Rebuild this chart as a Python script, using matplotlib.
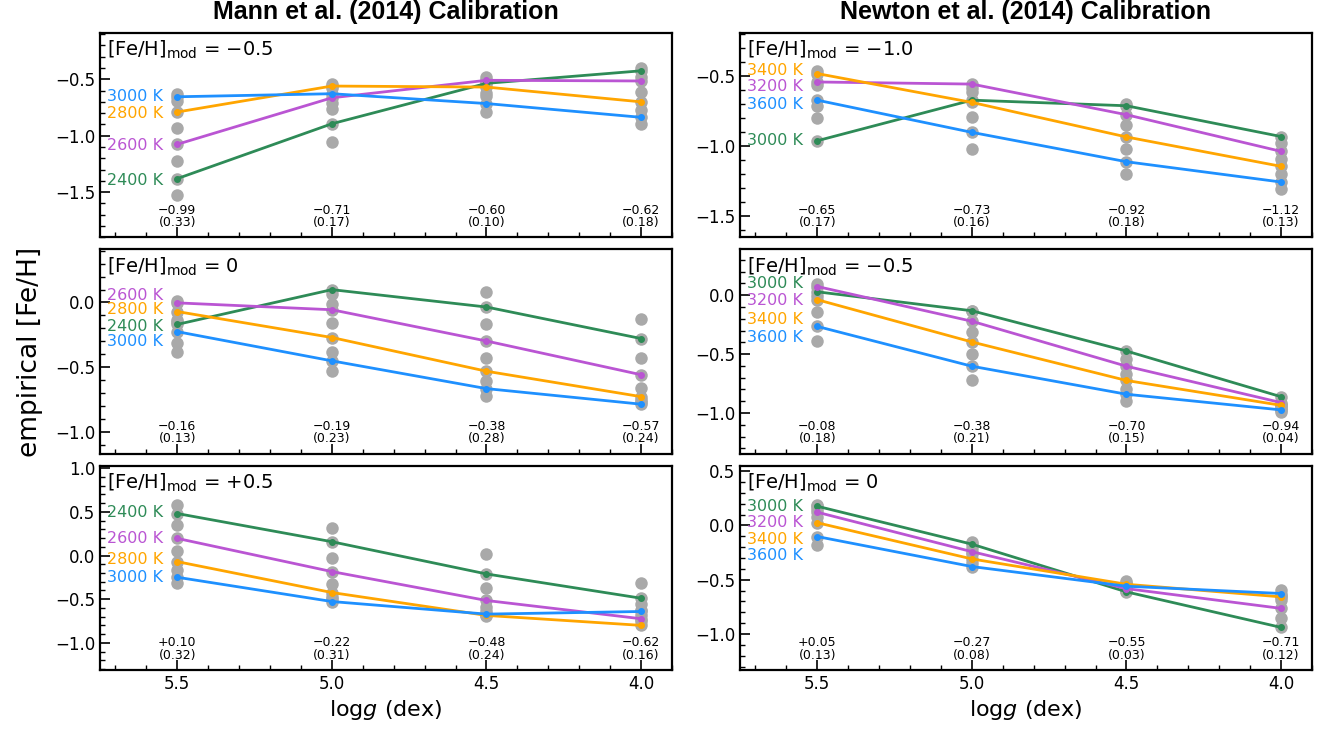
import matplotlib
matplotlib.use("Agg")
import matplotlib.pyplot as plt
import matplotlib.transforms as mtransforms
from matplotlib.ticker import MultipleLocator

# surface gravity grid (x axis, reversed)
logg = [5.5, 5.0, 4.5, 4.0]
mann_teff = [2400, 2600, 2800, 3000]
newton_teff = [3000, 3200, 3400, 3600]
teff_colors = ["seagreen", "mediumorchid", "orange", "dodgerblue"]

# ---- Mann et al. (2014), [Fe/H]mod = -0.5
mann_m05_lines = [[-1.38, -0.894, -0.536, -0.425],
                  [-1.076, -0.664, -0.509, -0.515],
                  [-0.79, -0.56, -0.569, -0.70],
                  [-0.655, -0.628, -0.715, -0.837]]
mann_m05_all = [[-0.634, -0.655, -0.694, -0.79, -0.933, -1.076, -1.222, -1.38, -1.521],
                [-0.545, -0.56, -0.575, -0.628, -0.664, -0.71, -0.76, -0.894, -1.052],
                [-0.479, -0.509, -0.53, -0.536, -0.569, -0.619, -0.649, -0.715, -0.793],
                [-0.40, -0.425, -0.479, -0.515, -0.613, -0.70, -0.775, -0.837, -0.897]]
mann_m05_mean = [-0.99, -0.71, -0.60, -0.62]
mann_m05_std = [0.33, 0.17, 0.10, 0.18]

# ---- Mann et al. (2014), [Fe/H]mod = 0
mann_0_lines = [[-0.169, 0.099, -0.035, -0.278],
                [-0.003, -0.056, -0.297, -0.557],
                [-0.07, -0.27, -0.53, -0.726],
                [-0.225, -0.45, -0.664, -0.784]]
mann_0_all = [[0.015, -0.003, -0.07, -0.137, -0.15, -0.169, -0.225, -0.31, -0.378],
              [0.099, 0.065, -0.01, -0.056, -0.16, -0.27, -0.38, -0.45, -0.53],
              [0.083, -0.035, -0.169, -0.297, -0.426, -0.53, -0.605, -0.664, -0.72],
              [-0.131, -0.278, -0.431, -0.557, -0.659, -0.726, -0.75, -0.77, -0.784]]
mann_0_mean = [-0.16, -0.19, -0.38, -0.57]
mann_0_std = [0.13, 0.23, 0.28, 0.24]

# ---- Mann et al. (2014), [Fe/H]mod = +0.5
mann_p05_lines = [[0.481, 0.158, -0.211, -0.489],
                  [0.196, -0.184, -0.515, -0.724],
                  [-0.07, -0.424, -0.686, -0.80],
                  [-0.249, -0.527, -0.671, -0.641]]
mann_p05_all = [[0.576, 0.481, 0.348, 0.196, 0.055, -0.07, -0.165, -0.249, -0.31],
                [0.317, 0.158, -0.025, -0.184, -0.325, -0.424, -0.47, -0.50, -0.527],
                [0.02, -0.211, -0.375, -0.515, -0.584, -0.63, -0.671, -0.686, -0.69],
                [-0.317, -0.489, -0.56, -0.62, -0.641, -0.68, -0.724, -0.75, -0.80]]
mann_p05_mean = [0.10, -0.22, -0.48, -0.62]
mann_p05_std = [0.32, 0.31, 0.24, 0.16]

# ---- Newton et al. (2014), [Fe/H]mod = -1.0
newton_m10_lines = [[-0.96, -0.67, -0.71, -0.93],
                    [-0.54, -0.555, -0.774, -1.036],
                    [-0.48, -0.686, -0.933, -1.143],
                    [-0.67, -0.90, -1.11, -1.255]]
newton_m10_all = [[-0.46, -0.48, -0.54, -0.56, -0.67, -0.71, -0.80, -0.96],
                  [-0.555, -0.58, -0.61, -0.67, -0.686, -0.79, -0.90, -1.02],
                  [-0.70, -0.71, -0.774, -0.85, -0.933, -1.02, -1.11, -1.195],
                  [-0.93, -0.976, -1.036, -1.09, -1.143, -1.195, -1.255, -1.305]]
newton_m10_mean = [-0.65, -0.73, -0.92, -1.12]
newton_m10_std = [0.17, 0.16, 0.18, 0.13]

# ---- Newton et al. (2014), [Fe/H]mod = -0.5
newton_m05_lines = [[0.029, -0.132, -0.474, -0.862],
                    [0.074, -0.221, -0.603, -0.912],
                    [-0.038, -0.397, -0.724, -0.935],
                    [-0.265, -0.603, -0.841, -0.974]]
newton_m05_all = [[0.094, 0.074, 0.029, -0.01, -0.038, -0.141, -0.265, -0.391],
                  [-0.13, -0.132, -0.221, -0.31, -0.397, -0.50, -0.603, -0.72],
                  [-0.474, -0.54, -0.603, -0.67, -0.724, -0.80, -0.841, -0.90],
                  [-0.862, -0.912, -0.93, -0.935, -0.95, -0.97, -0.974, -0.99]]
newton_m05_mean = [-0.08, -0.38, -0.70, -0.94]
newton_m05_std = [0.18, 0.21, 0.15, 0.04]

# ---- Newton et al. (2014), [Fe/H]mod = 0
newton_0_lines = [[0.176, -0.173, -0.612, -0.939],
                  [0.121, -0.242, -0.582, -0.764],
                  [0.024, -0.309, -0.542, -0.658],
                  [-0.103, -0.379, -0.56, -0.627]]
newton_0_all = [[0.19, 0.176, 0.15, 0.121, 0.08, 0.024, -0.103, -0.18],
                [-0.15, -0.173, -0.21, -0.242, -0.26, -0.309, -0.35, -0.379],
                [-0.51, -0.53, -0.542, -0.56, -0.57, -0.582, -0.60, -0.612],
                [-0.597, -0.627, -0.65, -0.658, -0.688, -0.764, -0.855, -0.939]]
newton_0_mean = [0.05, -0.27, -0.55, -0.71]
newton_0_std = [0.13, 0.08, 0.03, 0.12]

titles = ["Mann et al. (2014) Calibration", "Newton et al. (2014) Calibration"]

# (col, row, model feh text, lines, all points, means, stds, teffs, label heights, ylim)
panels = [
    (0, 0, "\u22120.5", mann_m05_lines, mann_m05_all, mann_m05_mean, mann_m05_std,
     mann_teff, [-1.40, -1.09, -0.80, -0.655], (-1.9, -0.09)),
    (0, 1, "0", mann_0_lines, mann_0_all, mann_0_mean, mann_0_std,
     mann_teff, [-0.185, 0.05, -0.056, -0.297], (-1.165, 0.41)),
    (0, 2, "+0.5", mann_p05_lines, mann_p05_all, mann_p05_mean, mann_p05_std,
     mann_teff, [0.49, 0.19, -0.04, -0.25], (-1.31, 1.03)),
    (1, 0, "\u22121.0", newton_m10_lines, newton_m10_all, newton_m10_mean, newton_m10_std,
     newton_teff, [-0.96, -0.569, -0.455, -0.70], (-1.65, -0.19)),
    (1, 1, "\u22120.5", newton_m05_lines, newton_m05_all, newton_m05_mean, newton_m05_std,
     newton_teff, [0.10, -0.047, -0.206, -0.356], (-1.345, 0.39)),
    (1, 2, "0", newton_0_lines, newton_0_all, newton_0_mean, newton_0_std,
     newton_teff, [0.176, 0.024, -0.127, -0.279], (-1.33, 0.55)),
]

W, H = 1326, 730
col_x = [100, 740]
ax_w = 572
row_top = 33
ax_h = 204.3
gap = 12


def fmt(v, sign=False):
    s = f"{v:+.2f}" if sign else f"{v:.2f}"
    return s.replace("-", "\u2212")


fig = plt.figure(figsize=(W / 100, H / 100), dpi=100)

for col, row, feh, lines, allpts, means, stds, teffs, lab_y, ylim in panels:
    top = row_top + row * (ax_h + gap)
    ax = fig.add_axes([col_x[col] / W, 1 - (top + ax_h) / H, ax_w / W, ax_h / H])

    for x, pts in zip(logg, allpts):
        ax.plot([x] * len(pts), pts, "o", color="darkgray", ms=9, mec="none", zorder=1)
    for vals, c in zip(lines, teff_colors):
        ax.plot(logg, vals, "-o", color=c, lw=2, ms=4, zorder=3)
    for t, c, y in zip(teffs, teff_colors, lab_y):
        ax.text(5.545, y, f"{t} K", color=c, ha="right", va="center", fontsize=11.5)

    trans = mtransforms.blended_transform_factory(ax.transData, ax.transAxes)
    sign = any(m > 0 for m in means)
    for x, m, s in zip(logg, means, stds):
        ax.text(x, 0.04, f"{fmt(m, sign)}\n({fmt(s)})", transform=trans,
                ha="center", va="bottom", fontsize=9, linespacing=0.95)

    ax.text(0.012, 0.97, r"[Fe/H]$_{\mathrm{mod}}$ = " + feh, transform=ax.transAxes,
            ha="left", va="top", fontsize=14)

    ax.set_xlim(5.75, 3.9)
    ax.set_ylim(*ylim)
    ax.xaxis.set_major_locator(MultipleLocator(0.5))
    ax.xaxis.set_minor_locator(MultipleLocator(0.1))
    ax.yaxis.set_major_locator(MultipleLocator(0.5))
    ax.yaxis.set_minor_locator(MultipleLocator(0.1))
    ax.tick_params(which="both", direction="in", top=False, right=False, labelsize=12)
    ax.tick_params(which="major", length=7, width=1.2)
    ax.tick_params(which="minor", length=3.5, width=1.0)
    for sp in ax.spines.values():
        sp.set_linewidth(1.6)

    if row == 2:
        ax.set_xlabel(r"log$g$ (dex)", fontsize=16)
    else:
        ax.tick_params(labelbottom=False)

for col, t in enumerate(titles):
    fig.text((col_x[col] + ax_w / 2) / W, 1 - 12 / H, t, ha="center", va="center",
             fontsize=18, fontweight="bold", family="Liberation Sans")

fig.text(30 / W, 1 - (row_top + 1.5 * ax_h + gap) / H, "empirical [Fe/H]",
         rotation=90, ha="center", va="center", fontsize=19)

fig.savefig("out.png", dpi=100)
